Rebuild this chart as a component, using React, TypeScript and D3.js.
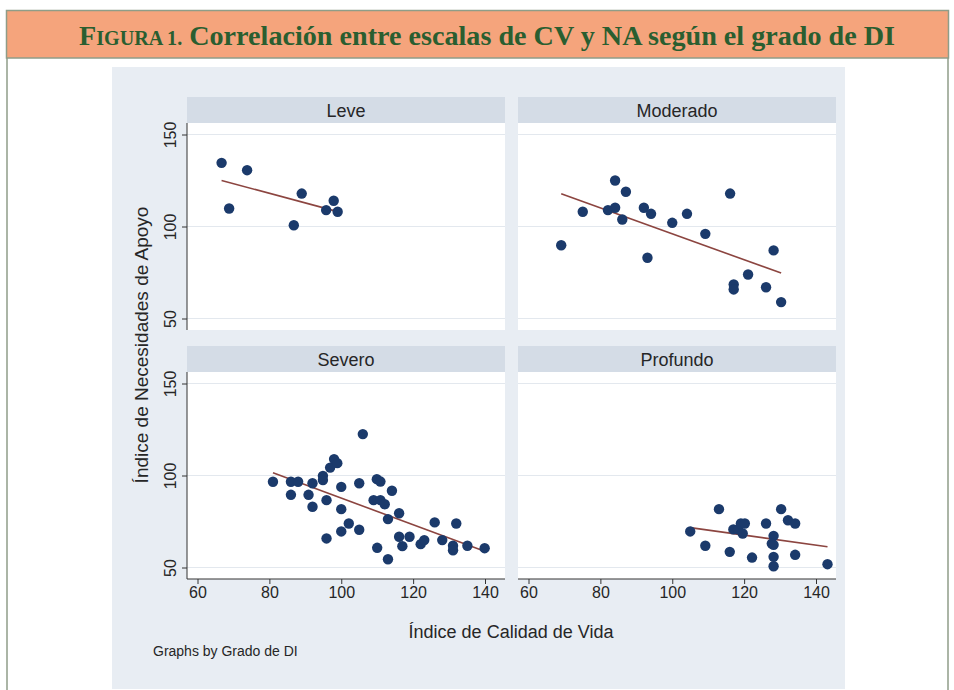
import React, { useRef, useEffect } from 'react';
import * as d3 from 'd3';

// Grado de DI panels
const panels = ['Leve', 'Moderado', 'Severo', 'Profundo'];

// Índice de Calidad de Vida (x) / Índice de Necesidades de Apoyo (y)
const leveCV = [66.7, 73.8, 68.8, 89.0, 86.8, 95.8, 97.9, 99.0];
const leveNA = [134.6, 130.6, 109.8, 117.9, 100.7, 108.9, 114, 108];

const moderadoCV = [69.1, 75.1, 82.1, 84.1, 84.1, 87.1, 86.1, 92.1, 94.1, 93.1, 100.0, 104.1, 109.2, 116.1, 117.1, 117.1, 121.1, 126.1, 128.2, 130.3];
const moderadoNA = [89.8, 108.0, 108.9, 110.2, 125.0, 118.9, 103.8, 110.2, 106.9, 83.0, 102.0, 106.9, 96.0, 117.9, 68.5, 65.8, 73.9, 67.0, 87.0, 58.9];

const severoCV = [81.0, 86.0, 88.0, 86.0, 92.0, 90.9, 92.0, 94.9, 94.9, 95.9, 95.9, 96.9, 98.0, 98.9, 100.0, 100.0, 100.0, 102.1, 105.0, 105.0, 106.0, 109.9, 110.9, 109.0, 110.9, 112.1, 110.0, 113.0, 113.0, 114.1, 116.1, 116.1, 117.0, 119.0, 122.1, 123.1, 126.0, 128.1, 131.1, 131.1, 132.0, 135.1, 139.9];
const severoNA = [96.6, 96.6, 96.6, 89.5, 95.8, 89.5, 83.0, 99.8, 97.5, 86.6, 65.8, 104.3, 108.9, 106.7, 93.8, 81.7, 69.6, 73.9, 95.8, 70.5, 122.5, 98.0, 96.7, 86.6, 86.6, 84.4, 60.7, 76.3, 54.5, 91.7, 79.5, 66.7, 61.6, 66.7, 62.7, 64.9, 74.5, 64.9, 61.8, 59.4, 73.9, 61.8, 60.5];

const profundoCV = [105.0, 109.2, 113.0, 116.0, 117.0, 118.3, 119.1, 120.2, 119.6, 122.2, 126.1, 128.2, 127.7, 128.2, 128.2, 128.2, 130.3, 132.2, 134.2, 134.2, 143.2];
const profundoNA = [69.6, 61.8, 81.7, 58.5, 70.7, 70.7, 73.9, 73.9, 68.5, 55.4, 73.9, 67.2, 63.0, 62.3, 55.8, 50.7, 81.7, 75.7, 73.9, 56.9, 51.8];

const xTicks = [60, 80, 100, 120, 140];
const yTicks = [50, 100, 150];

const panelX = [leveCV, moderadoCV, severoCV, profundoCV];
const panelY = [leveNA, moderadoNA, severoNA, profundoNA];

const FONT = 'Liberation Sans, Arial, sans-serif';
const INK = '#262626';

const App = () => {
  const svgRef = useRef<SVGSVGElement>(null);

  useEffect(() => {
    const svg = d3.select(svgRef.current);
    svg.selectAll('*').remove();

    // page frame + title bar
    svg.append('rect').attr('x', 0).attr('y', 0).attr('width', 954).attr('height', 690).attr('fill', '#fff');
    svg.append('line').attr('x1', 7).attr('x2', 7).attr('y1', 58).attr('y2', 690).attr('stroke', '#8f9d88').attr('stroke-width', 1.5);
    svg.append('line').attr('x1', 948).attr('x2', 948).attr('y1', 58).attr('y2', 690).attr('stroke', '#8f9d88').attr('stroke-width', 1.5);
    svg.append('rect')
      .attr('x', 6.5).attr('y', 10.5).attr('width', 942).attr('height', 47.5)
      .attr('fill', '#f5a47c').attr('stroke', '#8f9d88').attr('stroke-width', 1.5);

    const title = svg.append('text')
      .attr('x', 79).attr('y', 45)
      .attr('textLength', 816)
      .attr('lengthAdjust', 'spacingAndGlyphs')
      .attr('font-family', 'Liberation Serif, Times New Roman, serif')
      .attr('font-weight', 'bold')
      .attr('fill', '#2a5e30');
    title.append('tspan').attr('font-size', 28).text('F');
    title.append('tspan').attr('font-size', 20).text('IGURA 1.');
    title.append('tspan').attr('font-size', 28).text(' Correlación entre escalas de CV y NA según el grado de DI');

    // Stata graph region
    svg.append('rect').attr('x', 112).attr('y', 67).attr('width', 733).attr('height', 622).attr('fill', '#e8edf3');

    const cols = [187, 518];
    const rows = [97, 346];
    const pw = 318;
    const stripH = 26;
    const ph = 207;

    panels.forEach((name, i) => {
      const x0 = cols[i % 2];
      const top = rows[Math.floor(i / 2)];
      const pt = top + stripH;
      const pb = pt + ph;

      const x = d3.scaleLinear().domain([60, 140]).range([x0 + 10.5, x0 + 298]);
      const y = d3.scaleLinear().domain([50, 150]).range([pb - 11.5, pt + 11.5]);

      const g = svg.append('g');

      // header strip
      g.append('rect').attr('x', x0).attr('y', top).attr('width', pw).attr('height', stripH).attr('fill', '#d4dce6');
      g.append('text')
        .attr('x', x0 + pw / 2).attr('y', top + stripH / 2)
        .attr('dy', '0.37em')
        .attr('text-anchor', 'middle')
        .attr('font-family', FONT).attr('font-size', 18).attr('fill', INK)
        .text(name);

      // plot region
      g.append('rect').attr('x', x0).attr('y', pt).attr('width', pw).attr('height', ph).attr('fill', '#fff');
      g.selectAll('.grid')
        .data(yTicks)
        .enter()
        .append('line')
        .attr('x1', x0).attr('x2', x0 + pw)
        .attr('y1', d => y(d)).attr('y2', d => y(d))
        .attr('stroke', '#e3e8ee').attr('stroke-width', 1.2);

      const xs = panelX[i];
      const ys = panelY[i];
      const pts = xs.map((v, k) => [v, ys[k]]);

      // linear fit
      const mx = d3.mean(xs) as number;
      const my = d3.mean(ys) as number;
      const sxy = d3.sum(pts, p => (p[0] - mx) * (p[1] - my));
      const sxx = d3.sum(xs, v => (v - mx) * (v - mx));
      const b = sxy / sxx;
      const a = my - b * mx;
      const ext = d3.extent(xs) as [number, number];

      g.append('path')
        .attr('d', d3.line<number>().x(d => x(d)).y(d => y(a + b * d))(ext))
        .attr('stroke', '#8c4540').attr('stroke-width', 1.6).attr('fill', 'none');

      g.selectAll('.pt')
        .data(pts)
        .enter()
        .append('circle')
        .attr('cx', d => x(d[0]))
        .attr('cy', d => y(d[1]))
        .attr('r', 5.2)
        .attr('fill', '#1b3a6b');

      // y axis on left column
      if (i % 2 === 0) {
        g.append('line').attr('x1', x0).attr('x2', x0).attr('y1', pt).attr('y2', pb).attr('stroke', '#333').attr('stroke-width', 1);
        const ya = g.append('g')
          .attr('transform', `translate(${x0},0)`)
          .call(d3.axisLeft(y).tickValues(yTicks).tickSize(5).tickSizeOuter(0));
        ya.select('.domain').remove();
        ya.selectAll('line').attr('stroke', '#333');
        ya.selectAll('text')
          .attr('transform', 'rotate(-90)')
          .attr('x', 0).attr('y', -11).attr('dy', 0)
          .attr('text-anchor', 'middle')
          .attr('font-family', FONT).attr('font-size', 16).attr('fill', INK);
      }

      // x axis on bottom row
      if (i >= 2) {
        g.append('line').attr('x1', x0).attr('x2', x0 + pw).attr('y1', pb).attr('y2', pb).attr('stroke', '#333').attr('stroke-width', 1);
        const xa = g.append('g')
          .attr('transform', `translate(0,${pb})`)
          .call(d3.axisBottom(x).tickValues(xTicks).tickSize(5).tickSizeOuter(0));
        xa.select('.domain').remove();
        xa.selectAll('line').attr('stroke', '#333');
        xa.selectAll('text')
          .attr('y', 8)
          .attr('font-family', FONT).attr('font-size', 16).attr('fill', INK);
      }
    });

    // axis titles and note
    svg.append('text')
      .attr('x', 511).attr('y', 638)
      .attr('text-anchor', 'middle')
      .attr('font-family', FONT).attr('font-size', 18).attr('fill', INK)
      .text('Índice de Calidad de Vida');
    svg.append('text')
      .attr('transform', 'translate(148,345) rotate(-90)')
      .attr('text-anchor', 'middle')
      .attr('font-family', FONT).attr('font-size', 19).attr('fill', INK)
      .text('Índice de Necesidades de Apoyo');
    svg.append('text')
      .attr('x', 153).attr('y', 656)
      .attr('font-family', FONT).attr('font-size', 14).attr('fill', INK)
      .text('Graphs by Grado de DI');
  }, []);

  return (
    <svg
      ref={svgRef}
      width={954}
      height={690}
      style={{ position: 'absolute', left: 0, top: 0 }}
    />
  );
};

export default App;
